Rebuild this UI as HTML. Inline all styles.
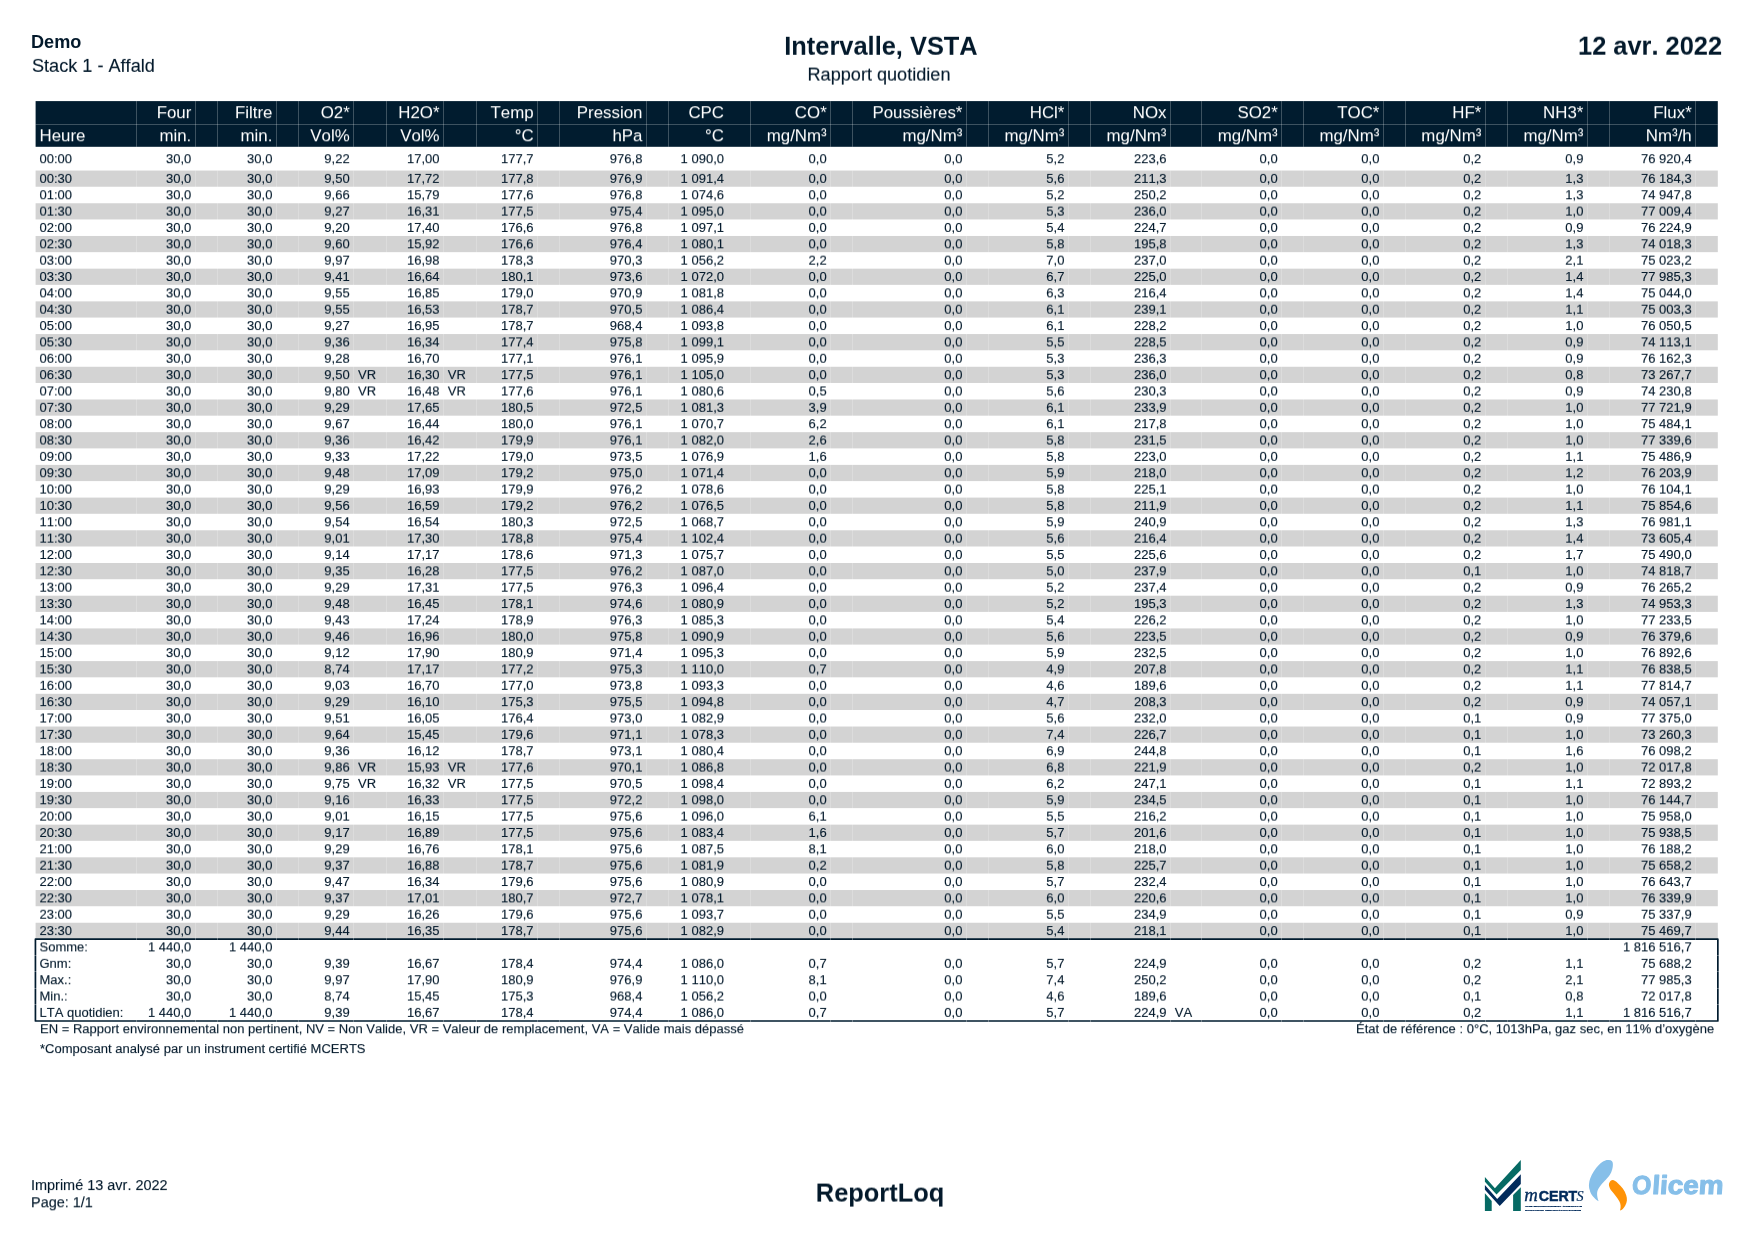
<!DOCTYPE html>
<html lang="fr"><head><meta charset="utf-8"><title>Intervalle, VSTA - Rapport quotidien</title>
<style>
*{box-sizing:border-box}
html,body{margin:0;padding:0;background:#fff}
body{width:1754px;height:1241px;position:relative;overflow:hidden;font-family:"Liberation Sans",Arial,Helvetica,sans-serif;color:#03192b;font-kerning:none;font-variant-ligatures:none;}
#bg{position:absolute;left:0;top:0}
#bg{will-change:transform}
#tx{position:absolute;left:0;top:0;width:1754px;height:1241px;will-change:transform}
.r{position:absolute;left:0;width:1754px;height:16px;line-height:16px;font-size:13.02px;white-space:nowrap}
.r span{position:absolute;top:0}
.r,.n{-webkit-text-stroke:.12px}
.h{position:absolute;left:0;width:1754px;height:20px;line-height:20px;font-size:16.875px;color:#fff;white-space:nowrap}
.h span{position:absolute;top:0}
.t{position:absolute;white-space:nowrap}
.r,.h,.t{will-change:transform}
.c0{left:39.50px}
.c1{right:1562.70px}
.f1{left:199.60px}
.c2{right:1481.60px}
.f2{left:280.70px}
.c3{right:1404.30px}
.f3{left:358.00px}
.c4{right:1314.50px}
.f4{left:447.80px}
.c5{right:1220.40px}
.f5{left:541.90px}
.c6{right:1111.60px}
.f6{left:650.70px}
.c7{right:1030.00px}
.f7{left:732.30px}
.c8{right:927.30px}
.f8{left:835.00px}
.c9{right:791.60px}
.f9{left:970.70px}
.c10{right:689.60px}
.f10{left:1072.70px}
.c11{right:587.50px}
.f11{left:1174.80px}
.c12{right:476.30px}
.f12{left:1286.00px}
.c13{right:374.60px}
.f13{left:1387.70px}
.c14{right:272.70px}
.f14{left:1489.60px}
.c15{right:170.60px}
.f15{left:1591.70px}
.c16{right:62.30px}
.f16{left:1700.00px}
</style></head><body>
<svg id="bg" width="1754" height="1241" viewBox="0 0 1754 1241"><rect x="35.6" y="101.1" width="1682.20" height="45.70" fill="#011c2f"/><rect x="35.6" y="170.55" width="1682.20" height="16.2" fill="#d3d3d3"/><rect x="35.6" y="203.25" width="1682.20" height="16.2" fill="#d3d3d3"/><rect x="35.6" y="235.96" width="1682.20" height="16.2" fill="#d3d3d3"/><rect x="35.6" y="268.66" width="1682.20" height="16.2" fill="#d3d3d3"/><rect x="35.6" y="301.37" width="1682.20" height="16.2" fill="#d3d3d3"/><rect x="35.6" y="334.07" width="1682.20" height="16.2" fill="#d3d3d3"/><rect x="35.6" y="366.77" width="1682.20" height="16.2" fill="#d3d3d3"/><rect x="35.6" y="399.48" width="1682.20" height="16.2" fill="#d3d3d3"/><rect x="35.6" y="432.18" width="1682.20" height="16.2" fill="#d3d3d3"/><rect x="35.6" y="464.89" width="1682.20" height="16.2" fill="#d3d3d3"/><rect x="35.6" y="497.59" width="1682.20" height="16.2" fill="#d3d3d3"/><rect x="35.6" y="530.29" width="1682.20" height="16.2" fill="#d3d3d3"/><rect x="35.6" y="563.00" width="1682.20" height="16.2" fill="#d3d3d3"/><rect x="35.6" y="595.70" width="1682.20" height="16.2" fill="#d3d3d3"/><rect x="35.6" y="628.41" width="1682.20" height="16.2" fill="#d3d3d3"/><rect x="35.6" y="661.11" width="1682.20" height="16.2" fill="#d3d3d3"/><rect x="35.6" y="693.81" width="1682.20" height="16.2" fill="#d3d3d3"/><rect x="35.6" y="726.52" width="1682.20" height="16.2" fill="#d3d3d3"/><rect x="35.6" y="759.22" width="1682.20" height="16.2" fill="#d3d3d3"/><rect x="35.6" y="791.93" width="1682.20" height="16.2" fill="#d3d3d3"/><rect x="35.6" y="824.63" width="1682.20" height="16.2" fill="#d3d3d3"/><rect x="35.6" y="857.33" width="1682.20" height="16.2" fill="#d3d3d3"/><rect x="35.6" y="890.04" width="1682.20" height="16.2" fill="#d3d3d3"/><rect x="35.6" y="922.74" width="1682.20" height="16.2" fill="#d3d3d3"/><path d="M136.5 101.1V146.8M195.5 101.1V146.8M217.5 101.1V146.8M276.5 101.1V146.8M298.5 101.1V146.8M353.5 101.1V146.8M386.5 101.1V146.8M443.5 101.1V146.8M476.5 101.1V146.8M537.5 101.1V146.8M559.5 101.1V146.8M646.5 101.1V146.8M668.5 101.1V146.8M750.5 101.1V146.8M830.5 101.1V146.8M852.5 101.1V146.8M966.5 101.1V146.8M988.5 101.1V146.8M1068.5 101.1V146.8M1090.5 101.1V146.8M1170.5 101.1V146.8M1201.5 101.1V146.8M1281.5 101.1V146.8M1303.5 101.1V146.8M1383.5 101.1V146.8M1405.5 101.1V146.8M1485.5 101.1V146.8M1507.5 101.1V146.8M1587.5 101.1V146.8M1609.5 101.1V146.8M1695.5 101.1V146.8M35.6 124.5H1717.8" stroke="#fff" stroke-opacity="0.24" stroke-width="1" fill="none"/><path d="M136.5 170.55V938M195.5 170.55V938M217.5 170.55V938M276.5 170.55V938M298.5 170.55V938M353.5 170.55V938M386.5 170.55V938M443.5 170.55V938M476.5 170.55V938M537.5 170.55V938M559.5 170.55V938M646.5 170.55V938M668.5 170.55V938M750.5 170.55V938M830.5 170.55V938M852.5 170.55V938M966.5 170.55V938M988.5 170.55V938M1068.5 170.55V938M1090.5 170.55V938M1170.5 170.55V938M1201.5 170.55V938M1281.5 170.55V938M1303.5 170.55V938M1383.5 170.55V938M1405.5 170.55V938M1485.5 170.55V938M1507.5 170.55V938M1587.5 170.55V938M1609.5 170.55V938M1695.5 170.55V938" stroke="#fff" stroke-opacity="0.22" stroke-width="1" fill="none"/><rect x="35.43" y="939.05" width="1682.42" height="81.95" fill="none" stroke="#011c2f" stroke-width="1.7" stroke-linejoin="round"/><path d="M136.5 937.5V940.6M136.5 1019.5V1022.5M195.5 937.5V940.6M195.5 1019.5V1022.5M217.5 937.5V940.6M217.5 1019.5V1022.5M276.5 937.5V940.6M276.5 1019.5V1022.5M298.5 937.5V940.6M298.5 1019.5V1022.5M353.5 937.5V940.6M353.5 1019.5V1022.5M386.5 937.5V940.6M386.5 1019.5V1022.5M443.5 937.5V940.6M443.5 1019.5V1022.5M476.5 937.5V940.6M476.5 1019.5V1022.5M537.5 937.5V940.6M537.5 1019.5V1022.5M559.5 937.5V940.6M559.5 1019.5V1022.5M646.5 937.5V940.6M646.5 1019.5V1022.5M668.5 937.5V940.6M668.5 1019.5V1022.5M750.5 937.5V940.6M750.5 1019.5V1022.5M830.5 937.5V940.6M830.5 1019.5V1022.5M852.5 937.5V940.6M852.5 1019.5V1022.5M966.5 937.5V940.6M966.5 1019.5V1022.5M988.5 937.5V940.6M988.5 1019.5V1022.5M1068.5 937.5V940.6M1068.5 1019.5V1022.5M1090.5 937.5V940.6M1090.5 1019.5V1022.5M1170.5 937.5V940.6M1170.5 1019.5V1022.5M1201.5 937.5V940.6M1201.5 1019.5V1022.5M1281.5 937.5V940.6M1281.5 1019.5V1022.5M1303.5 937.5V940.6M1303.5 1019.5V1022.5M1383.5 937.5V940.6M1383.5 1019.5V1022.5M1405.5 937.5V940.6M1405.5 1019.5V1022.5M1485.5 937.5V940.6M1485.5 1019.5V1022.5M1507.5 937.5V940.6M1507.5 1019.5V1022.5M1587.5 937.5V940.6M1587.5 1019.5V1022.5M1609.5 937.5V940.6M1609.5 1019.5V1022.5M1695.5 937.5V940.6M1695.5 1019.5V1022.5M34 955.5H37M1716.5 955.5H1719.5M34 971.5H37M1716.5 971.5H1719.5M34 988.5H37M1716.5 988.5H1719.5M34 1004.5H37M1716.5 1004.5H1719.5" stroke="#fff" stroke-opacity="0.3" stroke-width="1" fill="none"/><path d="M1484.9 1177.0L1494.9 1188.2L1520.8 1160.1V1170.0L1496.5 1194.5L1484.9 1181.8Z" fill="#066a64"/><path d="M1484.9 1185.0L1497.2 1199.1L1520.8 1174.2V1184.1L1499.7 1206.1L1484.9 1189.8Z" fill="#022b5b"/><path d="M1484.9 1193.3L1491.7 1201.0V1210.9H1484.9Z" fill="#066a64"/><path d="M1513.1 1194.9L1520.8 1187.2V1210.9H1513.1Z" fill="#066a64"/><text fill="#022b5b" stroke="#022b5b"><tspan x="1524.3" y="1200.7" font-family="'Liberation Serif',serif" font-style="italic" font-size="19.5" stroke-width="0.35" textLength="13.6" lengthAdjust="spacingAndGlyphs">m</tspan><tspan x="1538.7" y="1200.6" font-family="'Liberation Sans',sans-serif" font-weight="bold" font-size="14.3" stroke-width="0.5" textLength="38.6" lengthAdjust="spacingAndGlyphs">CERT</tspan><tspan x="1576.4" y="1200.9" font-family="'Liberation Serif',serif" font-style="italic" font-size="14.2" stroke-width="0.2">S</tspan></text><text x="1525" y="1206.9" font-family="'Liberation Sans',sans-serif" font-weight="bold" font-size="2.15" fill="#022b5b" stroke="#022b5b" stroke-width="0.22" textLength="57" lengthAdjust="spacingAndGlyphs">THE ENVIRONMENT AGENCY'S</text><text x="1525" y="1210.8" font-family="'Liberation Sans',sans-serif" font-weight="bold" font-size="2.15" fill="#022b5b" stroke="#022b5b" stroke-width="0.22" textLength="56" lengthAdjust="spacingAndGlyphs">MONITORING CERTIFICATION SCHEME</text><path d="M1608.2 1160.1C1611.5 1159.8 1613.2 1161.8 1612.9 1164.8C1612.9 1167.5 1612.0 1171.5 1609.9 1174.8C1608.0 1177.6 1606.0 1179.5 1604.8 1180.8C1602.5 1183.3 1600.8 1185.2 1599.7 1186.8C1598.0 1189.3 1597.0 1191.5 1597.1 1193.9C1597.1 1196.3 1597.8 1198.8 1598.6 1201.3C1596.3 1199.8 1594.3 1198.0 1592.8 1196.2C1591.2 1194.3 1590.2 1192.3 1589.8 1190.2C1589.0 1188.0 1588.8 1186.0 1589.0 1184.2C1589.2 1182.0 1589.6 1180.0 1590.3 1178.2C1591.2 1175.7 1592.3 1173.5 1593.7 1171.4C1595.2 1169.0 1596.9 1166.9 1598.8 1165.0C1600.8 1163.0 1603.2 1161.2 1604.8 1160.7C1606.0 1160.2 1607.2 1160.1 1608.2 1160.1Z" fill="#86bfe9"/><path d="M1612.5 1180.1C1614.3 1180.3 1616.0 1181.4 1617.6 1182.9C1619.6 1184.6 1621.3 1186.5 1622.8 1188.5C1624.4 1190.7 1625.5 1193.0 1626.2 1195.3C1626.8 1197.0 1627.0 1198.8 1626.9 1200.5C1626.7 1202.3 1626.2 1204.0 1625.3 1205.6C1624.7 1206.9 1623.8 1208.0 1622.8 1209.0C1622.0 1209.7 1621.0 1210.3 1620.0 1210.6C1620.5 1209.0 1620.8 1207.3 1620.6 1205.6C1620.5 1204.1 1620.0 1202.7 1619.3 1201.3C1618.4 1199.5 1617.2 1197.8 1615.9 1196.2C1614.6 1194.5 1613.0 1192.7 1611.7 1191.1C1610.5 1189.5 1609.5 1187.7 1609.1 1185.9C1608.8 1184.6 1608.9 1183.4 1609.5 1182.5C1610.1 1181.2 1611.2 1180.2 1612.5 1180.1Z" fill="#ff9307"/><text transform="translate(1631.4 1193.7) skewX(-4)" font-family="'Liberation Sans',sans-serif" font-weight="bold" font-size="26" fill="#86bfe9" stroke="#86bfe9" stroke-width="1.1" stroke-linejoin="round" lengthAdjust="spacingAndGlyphs"><tspan x="0" y="0" textLength="19.3" lengthAdjust="spacingAndGlyphs">O</tspan><tspan x="20.3" y="0" textLength="71.2" lengthAdjust="spacingAndGlyphs">licem</tspan></text></svg>
<div id="tx">
<div class="h" style="top:103px;transform:translateY(0.200px) rotate(0.0001deg);"><span class="c1">Four</span><span class="c2">Filtre</span><span class="c3">O2*</span><span class="c4">H2O*</span><span class="c5">Temp</span><span class="c6">Pression</span><span class="c7">CPC</span><span class="c8">CO*</span><span class="c9">Poussières*</span><span class="c10">HCl*</span><span class="c11">NOx</span><span class="c12">SO2*</span><span class="c13">TOC*</span><span class="c14">HF*</span><span class="c15">NH3*</span><span class="c16">Flux*</span></div>
<div class="h" style="top:126px;transform:translateY(0.300px) rotate(0.0001deg);"><span class="c0">Heure</span><span class="c1">min.</span><span class="c2">min.</span><span class="c3">Vol%</span><span class="c4">Vol%</span><span class="c5">°C</span><span class="c6">hPa</span><span class="c7">°C</span><span class="c8">mg/Nm³</span><span class="c9">mg/Nm³</span><span class="c10">mg/Nm³</span><span class="c11">mg/Nm³</span><span class="c12">mg/Nm³</span><span class="c13">mg/Nm³</span><span class="c14">mg/Nm³</span><span class="c15">mg/Nm³</span><span class="c16">Nm³/h</span></div>
<div class="r" style="top:151px;transform:translateY(0.200px) rotate(0.0001deg);"><span class="c0">00:00</span><span class="c1">30,0</span><span class="c2">30,0</span><span class="c3">9,22</span><span class="c4">17,00</span><span class="c5">177,7</span><span class="c6">976,8</span><span class="c7">1 090,0</span><span class="c8">0,0</span><span class="c9">0,0</span><span class="c10">5,2</span><span class="c11">223,6</span><span class="c12">0,0</span><span class="c13">0,0</span><span class="c14">0,2</span><span class="c15">0,9</span><span class="c16">76 920,4</span></div>
<div class="r" style="top:170px;transform:translateY(0.900px) rotate(0.0001deg);"><span class="c0">00:30</span><span class="c1">30,0</span><span class="c2">30,0</span><span class="c3">9,50</span><span class="c4">17,72</span><span class="c5">177,8</span><span class="c6">976,9</span><span class="c7">1 091,4</span><span class="c8">0,0</span><span class="c9">0,0</span><span class="c10">5,6</span><span class="c11">211,3</span><span class="c12">0,0</span><span class="c13">0,0</span><span class="c14">0,2</span><span class="c15">1,3</span><span class="c16">76 184,3</span></div>
<div class="r" style="top:187px;transform:translateY(0.252px) rotate(0.0001deg);"><span class="c0">01:00</span><span class="c1">30,0</span><span class="c2">30,0</span><span class="c3">9,66</span><span class="c4">15,79</span><span class="c5">177,6</span><span class="c6">976,8</span><span class="c7">1 074,6</span><span class="c8">0,0</span><span class="c9">0,0</span><span class="c10">5,2</span><span class="c11">250,2</span><span class="c12">0,0</span><span class="c13">0,0</span><span class="c14">0,2</span><span class="c15">1,3</span><span class="c16">74 947,8</span></div>
<div class="r" style="top:203px;transform:translateY(0.604px) rotate(0.0001deg);"><span class="c0">01:30</span><span class="c1">30,0</span><span class="c2">30,0</span><span class="c3">9,27</span><span class="c4">16,31</span><span class="c5">177,5</span><span class="c6">975,4</span><span class="c7">1 095,0</span><span class="c8">0,0</span><span class="c9">0,0</span><span class="c10">5,3</span><span class="c11">236,0</span><span class="c12">0,0</span><span class="c13">0,0</span><span class="c14">0,2</span><span class="c15">1,0</span><span class="c16">77 009,4</span></div>
<div class="r" style="top:219px;transform:translateY(0.956px) rotate(0.0001deg);"><span class="c0">02:00</span><span class="c1">30,0</span><span class="c2">30,0</span><span class="c3">9,20</span><span class="c4">17,40</span><span class="c5">176,6</span><span class="c6">976,8</span><span class="c7">1 097,1</span><span class="c8">0,0</span><span class="c9">0,0</span><span class="c10">5,4</span><span class="c11">224,7</span><span class="c12">0,0</span><span class="c13">0,0</span><span class="c14">0,2</span><span class="c15">0,9</span><span class="c16">76 224,9</span></div>
<div class="r" style="top:236px;transform:translateY(0.308px) rotate(0.0001deg);"><span class="c0">02:30</span><span class="c1">30,0</span><span class="c2">30,0</span><span class="c3">9,60</span><span class="c4">15,92</span><span class="c5">176,6</span><span class="c6">976,4</span><span class="c7">1 080,1</span><span class="c8">0,0</span><span class="c9">0,0</span><span class="c10">5,8</span><span class="c11">195,8</span><span class="c12">0,0</span><span class="c13">0,0</span><span class="c14">0,2</span><span class="c15">1,3</span><span class="c16">74 018,3</span></div>
<div class="r" style="top:252px;transform:translateY(0.660px) rotate(0.0001deg);"><span class="c0">03:00</span><span class="c1">30,0</span><span class="c2">30,0</span><span class="c3">9,97</span><span class="c4">16,98</span><span class="c5">178,3</span><span class="c6">970,3</span><span class="c7">1 056,2</span><span class="c8">2,2</span><span class="c9">0,0</span><span class="c10">7,0</span><span class="c11">237,0</span><span class="c12">0,0</span><span class="c13">0,0</span><span class="c14">0,2</span><span class="c15">2,1</span><span class="c16">75 023,2</span></div>
<div class="r" style="top:269px;transform:translateY(0.012px) rotate(0.0001deg);"><span class="c0">03:30</span><span class="c1">30,0</span><span class="c2">30,0</span><span class="c3">9,41</span><span class="c4">16,64</span><span class="c5">180,1</span><span class="c6">973,6</span><span class="c7">1 072,0</span><span class="c8">0,0</span><span class="c9">0,0</span><span class="c10">6,7</span><span class="c11">225,0</span><span class="c12">0,0</span><span class="c13">0,0</span><span class="c14">0,2</span><span class="c15">1,4</span><span class="c16">77 985,3</span></div>
<div class="r" style="top:285px;transform:translateY(0.364px) rotate(0.0001deg);"><span class="c0">04:00</span><span class="c1">30,0</span><span class="c2">30,0</span><span class="c3">9,55</span><span class="c4">16,85</span><span class="c5">179,0</span><span class="c6">970,9</span><span class="c7">1 081,8</span><span class="c8">0,0</span><span class="c9">0,0</span><span class="c10">6,3</span><span class="c11">216,4</span><span class="c12">0,0</span><span class="c13">0,0</span><span class="c14">0,2</span><span class="c15">1,4</span><span class="c16">75 044,0</span></div>
<div class="r" style="top:301px;transform:translateY(0.716px) rotate(0.0001deg);"><span class="c0">04:30</span><span class="c1">30,0</span><span class="c2">30,0</span><span class="c3">9,55</span><span class="c4">16,53</span><span class="c5">178,7</span><span class="c6">970,5</span><span class="c7">1 086,4</span><span class="c8">0,0</span><span class="c9">0,0</span><span class="c10">6,1</span><span class="c11">239,1</span><span class="c12">0,0</span><span class="c13">0,0</span><span class="c14">0,2</span><span class="c15">1,1</span><span class="c16">75 003,3</span></div>
<div class="r" style="top:318px;transform:translateY(0.068px) rotate(0.0001deg);"><span class="c0">05:00</span><span class="c1">30,0</span><span class="c2">30,0</span><span class="c3">9,27</span><span class="c4">16,95</span><span class="c5">178,7</span><span class="c6">968,4</span><span class="c7">1 093,8</span><span class="c8">0,0</span><span class="c9">0,0</span><span class="c10">6,1</span><span class="c11">228,2</span><span class="c12">0,0</span><span class="c13">0,0</span><span class="c14">0,2</span><span class="c15">1,0</span><span class="c16">76 050,5</span></div>
<div class="r" style="top:334px;transform:translateY(0.420px) rotate(0.0001deg);"><span class="c0">05:30</span><span class="c1">30,0</span><span class="c2">30,0</span><span class="c3">9,36</span><span class="c4">16,34</span><span class="c5">177,4</span><span class="c6">975,8</span><span class="c7">1 099,1</span><span class="c8">0,0</span><span class="c9">0,0</span><span class="c10">5,5</span><span class="c11">228,5</span><span class="c12">0,0</span><span class="c13">0,0</span><span class="c14">0,2</span><span class="c15">0,9</span><span class="c16">74 113,1</span></div>
<div class="r" style="top:350px;transform:translateY(0.772px) rotate(0.0001deg);"><span class="c0">06:00</span><span class="c1">30,0</span><span class="c2">30,0</span><span class="c3">9,28</span><span class="c4">16,70</span><span class="c5">177,1</span><span class="c6">976,1</span><span class="c7">1 095,9</span><span class="c8">0,0</span><span class="c9">0,0</span><span class="c10">5,3</span><span class="c11">236,3</span><span class="c12">0,0</span><span class="c13">0,0</span><span class="c14">0,2</span><span class="c15">0,9</span><span class="c16">76 162,3</span></div>
<div class="r" style="top:367px;transform:translateY(0.124px) rotate(0.0001deg);"><span class="c0">06:30</span><span class="c1">30,0</span><span class="c2">30,0</span><span class="c3">9,50</span><span class="f3">VR</span><span class="c4">16,30</span><span class="f4">VR</span><span class="c5">177,5</span><span class="c6">976,1</span><span class="c7">1 105,0</span><span class="c8">0,0</span><span class="c9">0,0</span><span class="c10">5,3</span><span class="c11">236,0</span><span class="c12">0,0</span><span class="c13">0,0</span><span class="c14">0,2</span><span class="c15">0,8</span><span class="c16">73 267,7</span></div>
<div class="r" style="top:383px;transform:translateY(0.476px) rotate(0.0001deg);"><span class="c0">07:00</span><span class="c1">30,0</span><span class="c2">30,0</span><span class="c3">9,80</span><span class="f3">VR</span><span class="c4">16,48</span><span class="f4">VR</span><span class="c5">177,6</span><span class="c6">976,1</span><span class="c7">1 080,6</span><span class="c8">0,5</span><span class="c9">0,0</span><span class="c10">5,6</span><span class="c11">230,3</span><span class="c12">0,0</span><span class="c13">0,0</span><span class="c14">0,2</span><span class="c15">0,9</span><span class="c16">74 230,8</span></div>
<div class="r" style="top:399px;transform:translateY(0.828px) rotate(0.0001deg);"><span class="c0">07:30</span><span class="c1">30,0</span><span class="c2">30,0</span><span class="c3">9,29</span><span class="c4">17,65</span><span class="c5">180,5</span><span class="c6">972,5</span><span class="c7">1 081,3</span><span class="c8">3,9</span><span class="c9">0,0</span><span class="c10">6,1</span><span class="c11">233,9</span><span class="c12">0,0</span><span class="c13">0,0</span><span class="c14">0,2</span><span class="c15">1,0</span><span class="c16">77 721,9</span></div>
<div class="r" style="top:416px;transform:translateY(0.180px) rotate(0.0001deg);"><span class="c0">08:00</span><span class="c1">30,0</span><span class="c2">30,0</span><span class="c3">9,67</span><span class="c4">16,44</span><span class="c5">180,0</span><span class="c6">976,1</span><span class="c7">1 070,7</span><span class="c8">6,2</span><span class="c9">0,0</span><span class="c10">6,1</span><span class="c11">217,8</span><span class="c12">0,0</span><span class="c13">0,0</span><span class="c14">0,2</span><span class="c15">1,0</span><span class="c16">75 484,1</span></div>
<div class="r" style="top:432px;transform:translateY(0.532px) rotate(0.0001deg);"><span class="c0">08:30</span><span class="c1">30,0</span><span class="c2">30,0</span><span class="c3">9,36</span><span class="c4">16,42</span><span class="c5">179,9</span><span class="c6">976,1</span><span class="c7">1 082,0</span><span class="c8">2,6</span><span class="c9">0,0</span><span class="c10">5,8</span><span class="c11">231,5</span><span class="c12">0,0</span><span class="c13">0,0</span><span class="c14">0,2</span><span class="c15">1,0</span><span class="c16">77 339,6</span></div>
<div class="r" style="top:448px;transform:translateY(0.884px) rotate(0.0001deg);"><span class="c0">09:00</span><span class="c1">30,0</span><span class="c2">30,0</span><span class="c3">9,33</span><span class="c4">17,22</span><span class="c5">179,0</span><span class="c6">973,5</span><span class="c7">1 076,9</span><span class="c8">1,6</span><span class="c9">0,0</span><span class="c10">5,8</span><span class="c11">223,0</span><span class="c12">0,0</span><span class="c13">0,0</span><span class="c14">0,2</span><span class="c15">1,1</span><span class="c16">75 486,9</span></div>
<div class="r" style="top:465px;transform:translateY(0.236px) rotate(0.0001deg);"><span class="c0">09:30</span><span class="c1">30,0</span><span class="c2">30,0</span><span class="c3">9,48</span><span class="c4">17,09</span><span class="c5">179,2</span><span class="c6">975,0</span><span class="c7">1 071,4</span><span class="c8">0,0</span><span class="c9">0,0</span><span class="c10">5,9</span><span class="c11">218,0</span><span class="c12">0,0</span><span class="c13">0,0</span><span class="c14">0,2</span><span class="c15">1,2</span><span class="c16">76 203,9</span></div>
<div class="r" style="top:481px;transform:translateY(0.588px) rotate(0.0001deg);"><span class="c0">10:00</span><span class="c1">30,0</span><span class="c2">30,0</span><span class="c3">9,29</span><span class="c4">16,93</span><span class="c5">179,9</span><span class="c6">976,2</span><span class="c7">1 078,6</span><span class="c8">0,0</span><span class="c9">0,0</span><span class="c10">5,8</span><span class="c11">225,1</span><span class="c12">0,0</span><span class="c13">0,0</span><span class="c14">0,2</span><span class="c15">1,0</span><span class="c16">76 104,1</span></div>
<div class="r" style="top:497px;transform:translateY(0.940px) rotate(0.0001deg);"><span class="c0">10:30</span><span class="c1">30,0</span><span class="c2">30,0</span><span class="c3">9,56</span><span class="c4">16,59</span><span class="c5">179,2</span><span class="c6">976,2</span><span class="c7">1 076,5</span><span class="c8">0,0</span><span class="c9">0,0</span><span class="c10">5,8</span><span class="c11">211,9</span><span class="c12">0,0</span><span class="c13">0,0</span><span class="c14">0,2</span><span class="c15">1,1</span><span class="c16">75 854,6</span></div>
<div class="r" style="top:514px;transform:translateY(0.292px) rotate(0.0001deg);"><span class="c0">11:00</span><span class="c1">30,0</span><span class="c2">30,0</span><span class="c3">9,54</span><span class="c4">16,54</span><span class="c5">180,3</span><span class="c6">972,5</span><span class="c7">1 068,7</span><span class="c8">0,0</span><span class="c9">0,0</span><span class="c10">5,9</span><span class="c11">240,9</span><span class="c12">0,0</span><span class="c13">0,0</span><span class="c14">0,2</span><span class="c15">1,3</span><span class="c16">76 981,1</span></div>
<div class="r" style="top:530px;transform:translateY(0.644px) rotate(0.0001deg);"><span class="c0">11:30</span><span class="c1">30,0</span><span class="c2">30,0</span><span class="c3">9,01</span><span class="c4">17,30</span><span class="c5">178,8</span><span class="c6">975,4</span><span class="c7">1 102,4</span><span class="c8">0,0</span><span class="c9">0,0</span><span class="c10">5,6</span><span class="c11">216,4</span><span class="c12">0,0</span><span class="c13">0,0</span><span class="c14">0,2</span><span class="c15">1,4</span><span class="c16">73 605,4</span></div>
<div class="r" style="top:546px;transform:translateY(0.996px) rotate(0.0001deg);"><span class="c0">12:00</span><span class="c1">30,0</span><span class="c2">30,0</span><span class="c3">9,14</span><span class="c4">17,17</span><span class="c5">178,6</span><span class="c6">971,3</span><span class="c7">1 075,7</span><span class="c8">0,0</span><span class="c9">0,0</span><span class="c10">5,5</span><span class="c11">225,6</span><span class="c12">0,0</span><span class="c13">0,0</span><span class="c14">0,2</span><span class="c15">1,7</span><span class="c16">75 490,0</span></div>
<div class="r" style="top:563px;transform:translateY(0.348px) rotate(0.0001deg);"><span class="c0">12:30</span><span class="c1">30,0</span><span class="c2">30,0</span><span class="c3">9,35</span><span class="c4">16,28</span><span class="c5">177,5</span><span class="c6">976,2</span><span class="c7">1 087,0</span><span class="c8">0,0</span><span class="c9">0,0</span><span class="c10">5,0</span><span class="c11">237,9</span><span class="c12">0,0</span><span class="c13">0,0</span><span class="c14">0,1</span><span class="c15">1,0</span><span class="c16">74 818,7</span></div>
<div class="r" style="top:579px;transform:translateY(0.700px) rotate(0.0001deg);"><span class="c0">13:00</span><span class="c1">30,0</span><span class="c2">30,0</span><span class="c3">9,29</span><span class="c4">17,31</span><span class="c5">177,5</span><span class="c6">976,3</span><span class="c7">1 096,4</span><span class="c8">0,0</span><span class="c9">0,0</span><span class="c10">5,2</span><span class="c11">237,4</span><span class="c12">0,0</span><span class="c13">0,0</span><span class="c14">0,2</span><span class="c15">0,9</span><span class="c16">76 265,2</span></div>
<div class="r" style="top:596px;transform:translateY(0.052px) rotate(0.0001deg);"><span class="c0">13:30</span><span class="c1">30,0</span><span class="c2">30,0</span><span class="c3">9,48</span><span class="c4">16,45</span><span class="c5">178,1</span><span class="c6">974,6</span><span class="c7">1 080,9</span><span class="c8">0,0</span><span class="c9">0,0</span><span class="c10">5,2</span><span class="c11">195,3</span><span class="c12">0,0</span><span class="c13">0,0</span><span class="c14">0,2</span><span class="c15">1,3</span><span class="c16">74 953,3</span></div>
<div class="r" style="top:612px;transform:translateY(0.404px) rotate(0.0001deg);"><span class="c0">14:00</span><span class="c1">30,0</span><span class="c2">30,0</span><span class="c3">9,43</span><span class="c4">17,24</span><span class="c5">178,9</span><span class="c6">976,3</span><span class="c7">1 085,3</span><span class="c8">0,0</span><span class="c9">0,0</span><span class="c10">5,4</span><span class="c11">226,2</span><span class="c12">0,0</span><span class="c13">0,0</span><span class="c14">0,2</span><span class="c15">1,0</span><span class="c16">77 233,5</span></div>
<div class="r" style="top:628px;transform:translateY(0.756px) rotate(0.0001deg);"><span class="c0">14:30</span><span class="c1">30,0</span><span class="c2">30,0</span><span class="c3">9,46</span><span class="c4">16,96</span><span class="c5">180,0</span><span class="c6">975,8</span><span class="c7">1 090,9</span><span class="c8">0,0</span><span class="c9">0,0</span><span class="c10">5,6</span><span class="c11">223,5</span><span class="c12">0,0</span><span class="c13">0,0</span><span class="c14">0,2</span><span class="c15">0,9</span><span class="c16">76 379,6</span></div>
<div class="r" style="top:645px;transform:translateY(0.108px) rotate(0.0001deg);"><span class="c0">15:00</span><span class="c1">30,0</span><span class="c2">30,0</span><span class="c3">9,12</span><span class="c4">17,90</span><span class="c5">180,9</span><span class="c6">971,4</span><span class="c7">1 095,3</span><span class="c8">0,0</span><span class="c9">0,0</span><span class="c10">5,9</span><span class="c11">232,5</span><span class="c12">0,0</span><span class="c13">0,0</span><span class="c14">0,2</span><span class="c15">1,0</span><span class="c16">76 892,6</span></div>
<div class="r" style="top:661px;transform:translateY(0.460px) rotate(0.0001deg);"><span class="c0">15:30</span><span class="c1">30,0</span><span class="c2">30,0</span><span class="c3">8,74</span><span class="c4">17,17</span><span class="c5">177,2</span><span class="c6">975,3</span><span class="c7">1 110,0</span><span class="c8">0,7</span><span class="c9">0,0</span><span class="c10">4,9</span><span class="c11">207,8</span><span class="c12">0,0</span><span class="c13">0,0</span><span class="c14">0,2</span><span class="c15">1,1</span><span class="c16">76 838,5</span></div>
<div class="r" style="top:677px;transform:translateY(0.812px) rotate(0.0001deg);"><span class="c0">16:00</span><span class="c1">30,0</span><span class="c2">30,0</span><span class="c3">9,03</span><span class="c4">16,70</span><span class="c5">177,0</span><span class="c6">973,8</span><span class="c7">1 093,3</span><span class="c8">0,0</span><span class="c9">0,0</span><span class="c10">4,6</span><span class="c11">189,6</span><span class="c12">0,0</span><span class="c13">0,0</span><span class="c14">0,2</span><span class="c15">1,1</span><span class="c16">77 814,7</span></div>
<div class="r" style="top:694px;transform:translateY(0.164px) rotate(0.0001deg);"><span class="c0">16:30</span><span class="c1">30,0</span><span class="c2">30,0</span><span class="c3">9,29</span><span class="c4">16,10</span><span class="c5">175,3</span><span class="c6">975,5</span><span class="c7">1 094,8</span><span class="c8">0,0</span><span class="c9">0,0</span><span class="c10">4,7</span><span class="c11">208,3</span><span class="c12">0,0</span><span class="c13">0,0</span><span class="c14">0,2</span><span class="c15">0,9</span><span class="c16">74 057,1</span></div>
<div class="r" style="top:710px;transform:translateY(0.516px) rotate(0.0001deg);"><span class="c0">17:00</span><span class="c1">30,0</span><span class="c2">30,0</span><span class="c3">9,51</span><span class="c4">16,05</span><span class="c5">176,4</span><span class="c6">973,0</span><span class="c7">1 082,9</span><span class="c8">0,0</span><span class="c9">0,0</span><span class="c10">5,6</span><span class="c11">232,0</span><span class="c12">0,0</span><span class="c13">0,0</span><span class="c14">0,1</span><span class="c15">0,9</span><span class="c16">77 375,0</span></div>
<div class="r" style="top:726px;transform:translateY(0.868px) rotate(0.0001deg);"><span class="c0">17:30</span><span class="c1">30,0</span><span class="c2">30,0</span><span class="c3">9,64</span><span class="c4">15,45</span><span class="c5">179,6</span><span class="c6">971,1</span><span class="c7">1 078,3</span><span class="c8">0,0</span><span class="c9">0,0</span><span class="c10">7,4</span><span class="c11">226,7</span><span class="c12">0,0</span><span class="c13">0,0</span><span class="c14">0,1</span><span class="c15">1,0</span><span class="c16">73 260,3</span></div>
<div class="r" style="top:743px;transform:translateY(0.220px) rotate(0.0001deg);"><span class="c0">18:00</span><span class="c1">30,0</span><span class="c2">30,0</span><span class="c3">9,36</span><span class="c4">16,12</span><span class="c5">178,7</span><span class="c6">973,1</span><span class="c7">1 080,4</span><span class="c8">0,0</span><span class="c9">0,0</span><span class="c10">6,9</span><span class="c11">244,8</span><span class="c12">0,0</span><span class="c13">0,0</span><span class="c14">0,1</span><span class="c15">1,6</span><span class="c16">76 098,2</span></div>
<div class="r" style="top:759px;transform:translateY(0.572px) rotate(0.0001deg);"><span class="c0">18:30</span><span class="c1">30,0</span><span class="c2">30,0</span><span class="c3">9,86</span><span class="f3">VR</span><span class="c4">15,93</span><span class="f4">VR</span><span class="c5">177,6</span><span class="c6">970,1</span><span class="c7">1 086,8</span><span class="c8">0,0</span><span class="c9">0,0</span><span class="c10">6,8</span><span class="c11">221,9</span><span class="c12">0,0</span><span class="c13">0,0</span><span class="c14">0,2</span><span class="c15">1,0</span><span class="c16">72 017,8</span></div>
<div class="r" style="top:775px;transform:translateY(0.924px) rotate(0.0001deg);"><span class="c0">19:00</span><span class="c1">30,0</span><span class="c2">30,0</span><span class="c3">9,75</span><span class="f3">VR</span><span class="c4">16,32</span><span class="f4">VR</span><span class="c5">177,5</span><span class="c6">970,5</span><span class="c7">1 098,4</span><span class="c8">0,0</span><span class="c9">0,0</span><span class="c10">6,2</span><span class="c11">247,1</span><span class="c12">0,0</span><span class="c13">0,0</span><span class="c14">0,1</span><span class="c15">1,1</span><span class="c16">72 893,2</span></div>
<div class="r" style="top:792px;transform:translateY(0.276px) rotate(0.0001deg);"><span class="c0">19:30</span><span class="c1">30,0</span><span class="c2">30,0</span><span class="c3">9,16</span><span class="c4">16,33</span><span class="c5">177,5</span><span class="c6">972,2</span><span class="c7">1 098,0</span><span class="c8">0,0</span><span class="c9">0,0</span><span class="c10">5,9</span><span class="c11">234,5</span><span class="c12">0,0</span><span class="c13">0,0</span><span class="c14">0,1</span><span class="c15">1,0</span><span class="c16">76 144,7</span></div>
<div class="r" style="top:808px;transform:translateY(0.628px) rotate(0.0001deg);"><span class="c0">20:00</span><span class="c1">30,0</span><span class="c2">30,0</span><span class="c3">9,01</span><span class="c4">16,15</span><span class="c5">177,5</span><span class="c6">975,6</span><span class="c7">1 096,0</span><span class="c8">6,1</span><span class="c9">0,0</span><span class="c10">5,5</span><span class="c11">216,2</span><span class="c12">0,0</span><span class="c13">0,0</span><span class="c14">0,1</span><span class="c15">1,0</span><span class="c16">75 958,0</span></div>
<div class="r" style="top:824px;transform:translateY(0.980px) rotate(0.0001deg);"><span class="c0">20:30</span><span class="c1">30,0</span><span class="c2">30,0</span><span class="c3">9,17</span><span class="c4">16,89</span><span class="c5">177,5</span><span class="c6">975,6</span><span class="c7">1 083,4</span><span class="c8">1,6</span><span class="c9">0,0</span><span class="c10">5,7</span><span class="c11">201,6</span><span class="c12">0,0</span><span class="c13">0,0</span><span class="c14">0,1</span><span class="c15">1,0</span><span class="c16">75 938,5</span></div>
<div class="r" style="top:841px;transform:translateY(0.332px) rotate(0.0001deg);"><span class="c0">21:00</span><span class="c1">30,0</span><span class="c2">30,0</span><span class="c3">9,29</span><span class="c4">16,76</span><span class="c5">178,1</span><span class="c6">975,6</span><span class="c7">1 087,5</span><span class="c8">8,1</span><span class="c9">0,0</span><span class="c10">6,0</span><span class="c11">218,0</span><span class="c12">0,0</span><span class="c13">0,0</span><span class="c14">0,1</span><span class="c15">1,0</span><span class="c16">76 188,2</span></div>
<div class="r" style="top:857px;transform:translateY(0.684px) rotate(0.0001deg);"><span class="c0">21:30</span><span class="c1">30,0</span><span class="c2">30,0</span><span class="c3">9,37</span><span class="c4">16,88</span><span class="c5">178,7</span><span class="c6">975,6</span><span class="c7">1 081,9</span><span class="c8">0,2</span><span class="c9">0,0</span><span class="c10">5,8</span><span class="c11">225,7</span><span class="c12">0,0</span><span class="c13">0,0</span><span class="c14">0,1</span><span class="c15">1,0</span><span class="c16">75 658,2</span></div>
<div class="r" style="top:874px;transform:translateY(0.036px) rotate(0.0001deg);"><span class="c0">22:00</span><span class="c1">30,0</span><span class="c2">30,0</span><span class="c3">9,47</span><span class="c4">16,34</span><span class="c5">179,6</span><span class="c6">975,6</span><span class="c7">1 080,9</span><span class="c8">0,0</span><span class="c9">0,0</span><span class="c10">5,7</span><span class="c11">232,4</span><span class="c12">0,0</span><span class="c13">0,0</span><span class="c14">0,1</span><span class="c15">1,0</span><span class="c16">76 643,7</span></div>
<div class="r" style="top:890px;transform:translateY(0.388px) rotate(0.0001deg);"><span class="c0">22:30</span><span class="c1">30,0</span><span class="c2">30,0</span><span class="c3">9,37</span><span class="c4">17,01</span><span class="c5">180,7</span><span class="c6">972,7</span><span class="c7">1 078,1</span><span class="c8">0,0</span><span class="c9">0,0</span><span class="c10">6,0</span><span class="c11">220,6</span><span class="c12">0,0</span><span class="c13">0,0</span><span class="c14">0,1</span><span class="c15">1,0</span><span class="c16">76 339,9</span></div>
<div class="r" style="top:906px;transform:translateY(0.740px) rotate(0.0001deg);"><span class="c0">23:00</span><span class="c1">30,0</span><span class="c2">30,0</span><span class="c3">9,29</span><span class="c4">16,26</span><span class="c5">179,6</span><span class="c6">975,6</span><span class="c7">1 093,7</span><span class="c8">0,0</span><span class="c9">0,0</span><span class="c10">5,5</span><span class="c11">234,9</span><span class="c12">0,0</span><span class="c13">0,0</span><span class="c14">0,1</span><span class="c15">0,9</span><span class="c16">75 337,9</span></div>
<div class="r" style="top:923px;transform:translateY(0.092px) rotate(0.0001deg);"><span class="c0">23:30</span><span class="c1">30,0</span><span class="c2">30,0</span><span class="c3">9,44</span><span class="c4">16,35</span><span class="c5">178,7</span><span class="c6">975,6</span><span class="c7">1 082,9</span><span class="c8">0,0</span><span class="c9">0,0</span><span class="c10">5,4</span><span class="c11">218,1</span><span class="c12">0,0</span><span class="c13">0,0</span><span class="c14">0,1</span><span class="c15">1,0</span><span class="c16">75 469,7</span></div>
<div class="r" style="top:939px;transform:translateY(0.400px) rotate(0.0001deg);"><span class="c0">Somme:</span><span class="c1">1 440,0</span><span class="c2">1 440,0</span><span class="c16">1 816 516,7</span></div>
<div class="r" style="top:955px;transform:translateY(0.850px) rotate(0.0001deg);"><span class="c0">Gnm:</span><span class="c1">30,0</span><span class="c2">30,0</span><span class="c3">9,39</span><span class="c4">16,67</span><span class="c5">178,4</span><span class="c6">974,4</span><span class="c7">1 086,0</span><span class="c8">0,7</span><span class="c9">0,0</span><span class="c10">5,7</span><span class="c11">224,9</span><span class="c12">0,0</span><span class="c13">0,0</span><span class="c14">0,2</span><span class="c15">1,1</span><span class="c16">75 688,2</span></div>
<div class="r" style="top:972px;transform:translateY(0.250px) rotate(0.0001deg);"><span class="c0">Max.:</span><span class="c1">30,0</span><span class="c2">30,0</span><span class="c3">9,97</span><span class="c4">17,90</span><span class="c5">180,9</span><span class="c6">976,9</span><span class="c7">1 110,0</span><span class="c8">8,1</span><span class="c9">0,0</span><span class="c10">7,4</span><span class="c11">250,2</span><span class="c12">0,0</span><span class="c13">0,0</span><span class="c14">0,2</span><span class="c15">2,1</span><span class="c16">77 985,3</span></div>
<div class="r" style="top:988px;transform:translateY(0.550px) rotate(0.0001deg);"><span class="c0">Min.:</span><span class="c1">30,0</span><span class="c2">30,0</span><span class="c3">8,74</span><span class="c4">15,45</span><span class="c5">175,3</span><span class="c6">968,4</span><span class="c7">1 056,2</span><span class="c8">0,0</span><span class="c9">0,0</span><span class="c10">4,6</span><span class="c11">189,6</span><span class="c12">0,0</span><span class="c13">0,0</span><span class="c14">0,1</span><span class="c15">0,8</span><span class="c16">72 017,8</span></div>
<div class="r" style="top:1004px;transform:translateY(0.900px) rotate(0.0001deg);"><span class="c0">LTA quotidien:</span><span class="c1">1 440,0</span><span class="c2">1 440,0</span><span class="c3">9,39</span><span class="c4">16,67</span><span class="c5">178,4</span><span class="c6">974,4</span><span class="c7">1 086,0</span><span class="c8">0,7</span><span class="c9">0,0</span><span class="c10">5,7</span><span class="c11">224,9</span><span class="f11">VA</span><span class="c12">0,0</span><span class="c13">0,0</span><span class="c14">0,2</span><span class="c15">1,1</span><span class="c16">1 816 516,7</span></div>
<div class="t n" style="top:1021px;transform:translateY(0.250px) rotate(0.0001deg);font-size:13.02px;line-height:16px;height:16px;left:39.50px;">EN = Rapport environnemental non pertinent, NV = Non Valide, VR = Valeur de remplacement, VA = Valide mais dépassé</div>
<div class="t n" style="top:1021px;transform:translateY(0.250px) rotate(0.0001deg);font-size:13.02px;line-height:16px;height:16px;right:40.00px;">État de référence : 0°C, 1013hPa, gaz sec, en 11% d’oxygène</div>
<div class="t n" style="top:1041px;transform:translateY(0.100px) rotate(0.0001deg);font-size:13.02px;line-height:16px;height:16px;left:39.50px;">*Composant analysé par un instrument certifié MCERTS</div>
<div class="t" style="top:31px;transform:translateY(0.000px) rotate(0.0001deg);font-size:18.125px;line-height:22px;height:22px;font-weight:bold;left:31.40px;">Demo</div>
<div class="t n" style="top:54px;transform:translateY(0.900px) rotate(0.0001deg);font-size:18.125px;line-height:22px;height:22px;left:31.50px;">Stack 1 - Affald</div>
<div class="t" style="top:30px;transform:translateY(0.800px) rotate(0.0001deg);font-size:25.42px;line-height:31px;height:31px;font-weight:bold;left:280.55px;width:1200px;text-align:center;">Intervalle, VSTA</div>
<div class="t n" style="top:63px;transform:translateY(0.600px) rotate(0.0001deg);font-size:18.125px;line-height:22px;height:22px;left:278.80px;width:1200px;text-align:center;">Rapport quotidien</div>
<div class="t" style="top:30px;transform:translateY(0.700px) rotate(0.0001deg);font-size:25.42px;line-height:31px;height:31px;font-weight:bold;right:32.10px;">12 avr. 2022</div>
<div class="t n" style="top:1177px;transform:translateY(0.100px) rotate(0.0001deg);font-size:14.46px;line-height:17px;height:17px;left:31.40px;">Imprimé 13 avr. 2022</div>
<div class="t n" style="top:1194px;transform:translateY(0.300px) rotate(0.0001deg);font-size:14.46px;line-height:17px;height:17px;left:31.40px;">Page: 1/1</div>
<div class="t" style="top:1177px;transform:translateY(0.600px) rotate(0.0001deg);font-size:25.42px;line-height:31px;height:31px;font-weight:bold;left:280.40px;width:1200px;text-align:center;">ReportLoq</div>
</div>
</body></html>
